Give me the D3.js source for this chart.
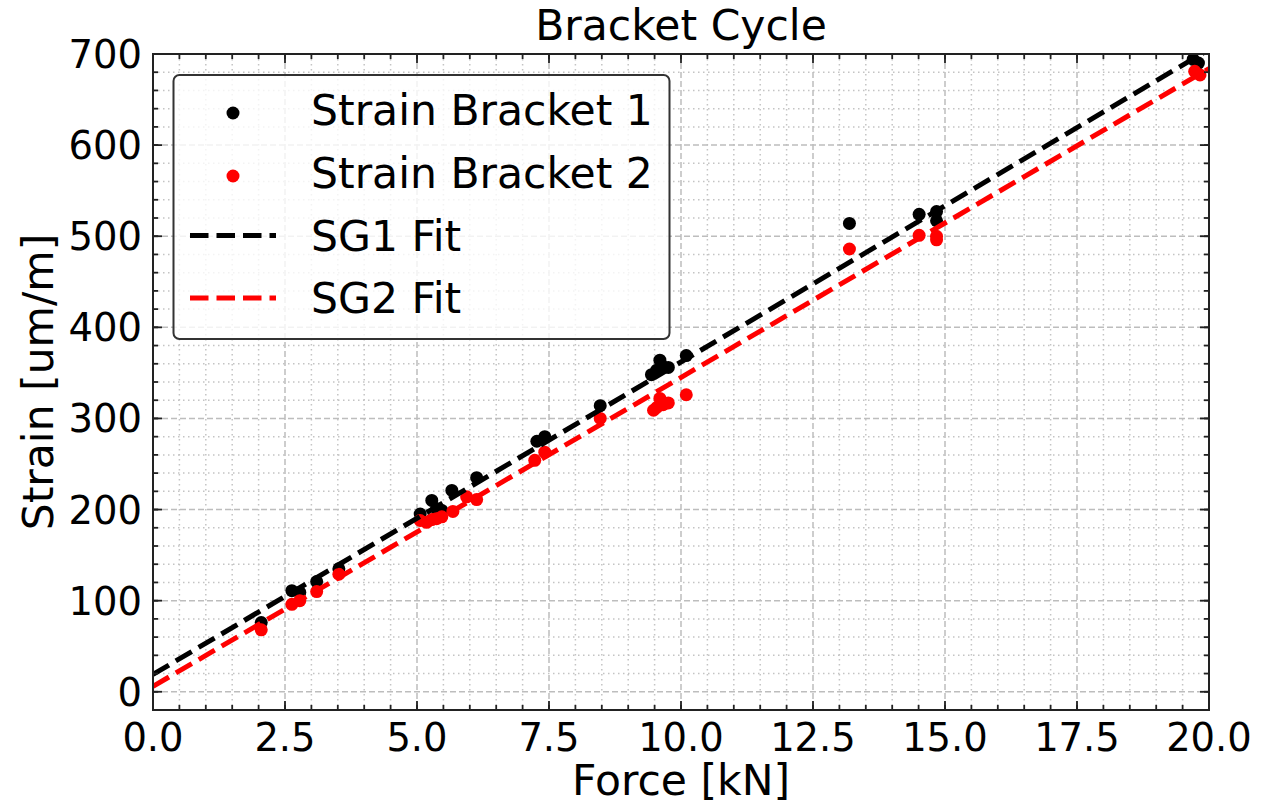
<!DOCTYPE html>
<html>
<head>
<meta charset="utf-8">
<script src="https://cdn.jsdelivr.net/npm/d3@7"></script>
<style>
  html, body { margin: 0; padding: 0; background: #fff; }
  svg { display: block; font-family: "DejaVu Sans", sans-serif; }
</style>
</head>
<body>
<svg id="chart" width="1279" height="805"></svg>
<script>
// Strain gauge readings on the two brackets versus applied force
const forceSG1  = [2.05, 2.63, 2.78, 3.10, 3.52, 5.06, 5.28, 5.37, 5.47, 5.66, 6.13,
                   7.27, 7.42, 8.47, 9.44, 9.54, 9.60, 9.66, 9.76, 10.10,
                   13.19, 14.51, 14.84, 14.84, 19.70, 19.80];
const strainSG1 = [76, 111, 109, 121, 135, 195, 210, 201, 199, 221, 235,
                   275, 280, 314, 348, 353, 364, 357, 356, 369,
                   514, 524, 527, 517, 694, 690];
const forceSG2  = [2.05, 2.63, 2.78, 3.10, 3.52, 5.06, 5.18, 5.28, 5.37, 5.47, 5.68, 5.94, 6.13,
                   7.23, 7.42, 8.47, 9.48, 9.54, 9.60, 9.66, 9.76, 10.10,
                   13.19, 14.51, 14.84, 14.84, 19.73, 19.83];
const strainSG2 = [68, 96, 100, 110, 129, 188, 186, 189, 190, 192, 198, 214, 211,
                   254, 263, 300, 309, 312, 322, 315, 317, 326,
                   486, 501, 500, 496, 681, 677];

// Linear fit coefficients (strain = slope * force + intercept)
const sg1Fit = { slope: 34.3, intercept: 19 };
const sg2Fit = { slope: 33.9, intercept: 6 };

const xTicks = d3.range(0, 20.01, 2.5);
const yTicks = d3.range(0, 701, 100);
const xMinor = d3.range(0, 20.01, 0.5);
const yMinor = d3.range(-20, 701, 20);

const legendItems = [
  { label: "Strain Bracket 1", color: "#000000", kind: "dot" },
  { label: "Strain Bracket 2", color: "#ff0000", kind: "dot" },
  { label: "SG1 Fit", color: "#000000", kind: "line" },
  { label: "SG2 Fit", color: "#ff0000", kind: "line" }
];

const svg = d3.select("#chart");
const plot = { left: 153, right: 1209, top: 54, bottom: 710 };

const x = d3.scaleLinear().domain([0, 20]).range([plot.left, plot.right]);
const y = d3.scaleLinear().domain([-20, 700]).range([plot.bottom, plot.top]);

svg.append("defs").append("clipPath").attr("id", "plotClip")
  .append("rect")
  .attr("x", plot.left).attr("y", plot.top)
  .attr("width", plot.right - plot.left).attr("height", plot.bottom - plot.top);

// Grid: dotted minor lines, dashed major lines
const grid = svg.append("g");
const isMajorX = v => xTicks.some(t => Math.abs(t - v) < 1e-6);
const isMajorY = v => yTicks.some(t => Math.abs(t - v) < 1e-6);

grid.selectAll(".mx").data(xMinor.filter(v => !isMajorX(v) && v > 0 && v < 20)).join("line")
  .attr("x1", d => x(d)).attr("x2", d => x(d))
  .attr("y1", plot.top).attr("y2", plot.bottom)
  .attr("stroke", "#c4c4c4").attr("stroke-width", 1.5).attr("stroke-dasharray", "1.5,3.5");
grid.selectAll(".my").data(yMinor.filter(v => !isMajorY(v) && v > -20 && v < 700)).join("line")
  .attr("y1", d => y(d)).attr("y2", d => y(d))
  .attr("x1", plot.left).attr("x2", plot.right)
  .attr("stroke", "#c4c4c4").attr("stroke-width", 1.5).attr("stroke-dasharray", "1.5,3.5");
grid.selectAll(".Mx").data(xTicks.filter(v => v > 0 && v < 20)).join("line")
  .attr("x1", d => x(d)).attr("x2", d => x(d))
  .attr("y1", plot.top).attr("y2", plot.bottom)
  .attr("stroke", "#bdbdbd").attr("stroke-width", 1.5).attr("stroke-dasharray", "6,3");
grid.selectAll(".My").data(yTicks.filter(v => v < 700)).join("line")
  .attr("y1", d => y(d)).attr("y2", d => y(d))
  .attr("x1", plot.left).attr("x2", plot.right)
  .attr("stroke", "#bdbdbd").attr("stroke-width", 1.5).attr("stroke-dasharray", "6,3");

const data = svg.append("g").attr("clip-path", "url(#plotClip)");

// Scatter points
data.selectAll(".p1").data(d3.zip(forceSG1, strainSG1)).join("circle")
  .attr("cx", d => x(d[0])).attr("cy", d => y(d[1])).attr("r", 6.5).attr("fill", "#000000");
data.selectAll(".p2").data(d3.zip(forceSG2, strainSG2)).join("circle")
  .attr("cx", d => x(d[0])).attr("cy", d => y(d[1])).attr("r", 6.5).attr("fill", "#ff0000");

// Fit lines
const fitLine = d3.line().x(d => x(d[0])).y(d => y(d[1]));
[[sg1Fit, "#000000"], [sg2Fit, "#ff0000"]].forEach(([fit, color]) => {
  const pts = [0, 20].map(f => [f, fit.slope * f + fit.intercept]);
  data.append("path").attr("d", fitLine(pts))
    .attr("fill", "none").attr("stroke", color).attr("stroke-width", 5)
    .attr("stroke-dasharray", "18.5,8");
});

// Axes with inward ticks on all four sides
const ax = svg.append("g");
const tickColor = "#222";
function ticks(values, len, sideFn) {
  values.forEach(v => sideFn(v, len));
}
const bottomTick = (v, len) => ax.append("line").attr("x1", x(v)).attr("x2", x(v))
  .attr("y1", plot.bottom).attr("y2", plot.bottom - len).attr("stroke", tickColor).attr("stroke-width", 1.8);
const topTick = (v, len) => ax.append("line").attr("x1", x(v)).attr("x2", x(v))
  .attr("y1", plot.top).attr("y2", plot.top + len).attr("stroke", tickColor).attr("stroke-width", 1.8);
const leftTick = (v, len) => ax.append("line").attr("y1", y(v)).attr("y2", y(v))
  .attr("x1", plot.left).attr("x2", plot.left + len).attr("stroke", tickColor).attr("stroke-width", 1.8);
const rightTick = (v, len) => ax.append("line").attr("y1", y(v)).attr("y2", y(v))
  .attr("x1", plot.right).attr("x2", plot.right - len).attr("stroke", tickColor).attr("stroke-width", 1.8);

[bottomTick, topTick].forEach(fn => { ticks(xMinor, 5, fn); ticks(xTicks, 9, fn); });
[leftTick, rightTick].forEach(fn => { ticks(yMinor, 5, fn); ticks(yTicks, 9, fn); });

ax.append("rect")
  .attr("x", plot.left).attr("y", plot.top)
  .attr("width", plot.right - plot.left).attr("height", plot.bottom - plot.top)
  .attr("fill", "none").attr("stroke", tickColor).attr("stroke-width", 2);

// Tick labels
ax.selectAll(".xl").data(xTicks).join("text")
  .attr("x", d => x(d)).attr("y", 751)
  .attr("text-anchor", "middle").attr("font-size", 38.5).attr("fill", "#000")
  .text(d3.format(".1f"));
ax.selectAll(".yl").data(yTicks).join("text")
  .attr("x", 142).attr("y", d => y(d) + 14)
  .attr("text-anchor", "end").attr("font-size", 38.5).attr("fill", "#000")
  .text(d => d);

// Titles
svg.append("text").attr("x", (plot.left + plot.right) / 2).attr("y", 40)
  .attr("text-anchor", "middle").attr("font-size", 42.5).text("Bracket Cycle");
svg.append("text").attr("x", (plot.left + plot.right) / 2).attr("y", 795)
  .attr("text-anchor", "middle").attr("font-size", 42.5).text("Force [kN]");
svg.append("text")
  .attr("transform", `translate(53,${(plot.top + plot.bottom) / 2}) rotate(-90)`)
  .attr("text-anchor", "middle").attr("font-size", 42.5).text("Strain [um/m]");

// Legend
const lg = svg.append("g");
lg.append("rect").attr("x", 173.5).attr("y", 75).attr("width", 496).attr("height", 264)
  .attr("rx", 6).attr("fill", "#fff").attr("fill-opacity", 0.8)
  .attr("stroke", "#333").attr("stroke-width", 2);
const rowBase = [125, 188, 250.5, 313];
legendItems.forEach((it, i) => {
  const b = rowBase[i];
  if (it.kind === "dot") {
    lg.append("circle").attr("cx", 233).attr("cy", b - 12).attr("r", 6.5).attr("fill", it.color);
  } else {
    lg.append("line").attr("x1", 190).attr("x2", 276).attr("y1", b - 15).attr("y2", b - 15)
      .attr("stroke", it.color).attr("stroke-width", 5).attr("stroke-dasharray", "18.5,8");
  }
  lg.append("text").attr("x", 311).attr("y", b).attr("font-size", 42.5).attr("fill", "#000").text(it.label);
});
</script>
</body>
</html>
